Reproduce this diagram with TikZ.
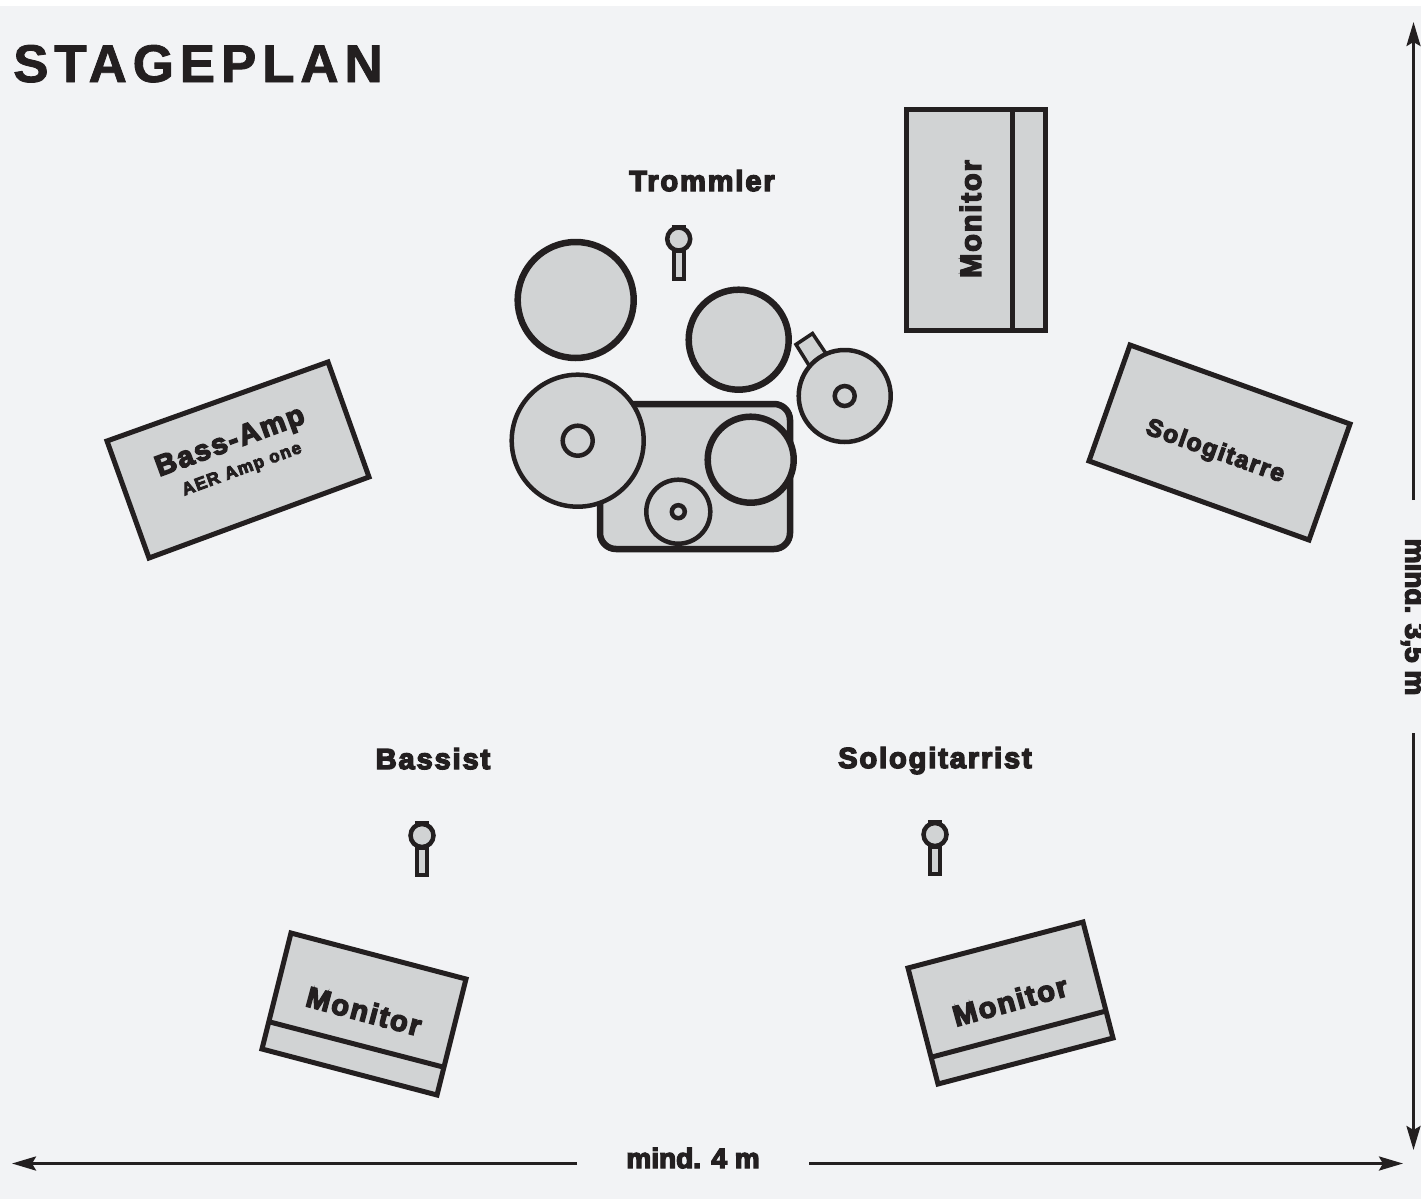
\documentclass[tikz,border=0pt]{standalone}
\usepackage{fontspec}
\usetikzlibrary{arrows.meta}
\setmainfont{Liberation Sans}
\newfontfamily\blk[FakeBold=5,LetterSpace=6.5]{Liberation Sans Bold}
\newfontfamily\blkn[FakeBold=5]{Liberation Sans Bold}
\newfontfamily\ttl[FakeBold=1.6,LetterSpace=11]{Liberation Sans Bold}
\definecolor{bgc}{HTML}{F2F3F5}
\definecolor{fillc}{HTML}{D1D3D4}
\definecolor{ink}{HTML}{231F20}
\tikzset{
  lab/.style={text=ink,inner sep=0pt,font=\blk\fontsize{29}{29}\selectfont},
  labn/.style={text=ink,inner sep=0pt,font=\blkn\fontsize{28}{28}\selectfont},
  box/.style={draw=ink,fill=fillc,line width=5pt,line join=miter},
  thick ring/.style={draw=ink,fill=fillc,line width=6.5pt},
  thin ring/.style={draw=ink,fill=fillc,line width=4.5pt},
  dim/.style={draw=ink,line width=3pt,-{Stealth[length=24pt,width=14pt,inset=4pt]}},
  mic/.pic={
    \draw[draw=ink,line width=3pt] (-7,-13) -- (7,-13);
    \draw[draw=ink,fill=fillc,line width=4pt] (-5,12) rectangle (5,39.5);
    \draw[thin ring] (0,0) circle (11.5);
  }
}
\begin{document}
\begin{tikzpicture}[x=1pt,y=-1pt]
\useasboundingbox (0,0) rectangle (1421,1199);
\fill[bgc] (0,6) rectangle (1421,1199);
\node[text=ink,inner sep=0pt,anchor=base west,font=\ttl\fontsize{53}{53}\selectfont] (title) at (13,82) {STAGEPLAN};
% top monitor
\draw[box] (906,109.5) rectangle (1045,330);
\draw[draw=ink,line width=5pt] (1012,109.5) -- (1012,330);
\node[lab,rotate=90] (montop) at (970.5,219) {Monitor};
% guitar amp
\draw[box] (1130,345) -- (1350,424) -- (1309,540) -- (1089,461) -- cycle;
\node[lab,rotate=-19.7,font=\blk\fontsize{24.5}{24.5}\selectfont] (solo) at (1215,452) {Sologitarre};
% bass amp
\draw[box] (328,362) -- (369,477) -- (149,558) -- (107,441) -- cycle;
\node[lab,rotate=20.2,font=\blk\fontsize{29}{29}\selectfont] (bass) at (230.5,443) {Bass-Amp};
\node[lab,rotate=20.2,font=\blk\fontsize{17.5}{17.5}\selectfont] (aer) at (242,470) {AER Amp one};
% lower monitors
\draw[box] (291,933) -- (466,979) -- (437,1095) -- (262,1049) -- cycle;
\draw[draw=ink,line width=5pt] (270,1022) -- (443,1067);
\node[lab,rotate=-15] (monl) at (364,1011) {Monitor};
\draw[box] (1083,922) -- (1113,1038) -- (938,1084) -- (908,968) -- cycle;
\draw[draw=ink,line width=5pt] (1106,1011) -- (932,1057);
\node[lab,rotate=15.5] (monr) at (1010,1001) {Monitor};
% drum kit
\draw[thick ring] (600,404) [rounded corners=16pt] rectangle (790,549);
\draw[thick ring] (575.7,300) circle (58);
\draw[thick ring] (738.7,339.7) circle (50);
\draw[draw=ink,fill=fillc,line width=3.5pt,line join=miter] (796,344.5) -- (812.5,333.5) -- (827,355) -- (810,367) -- cycle;
\draw[thin ring] (844.7,396) circle (46);
\draw[thin ring] (844.7,396) circle (10);
\draw[thin ring] (577.7,440.7) circle (66);
\draw[thin ring] (577.7,440.7) circle (15);
\draw[thick ring] (750.7,459.7) circle (43);
\draw[thin ring] (678.3,511.7) circle (32);
\draw[thin ring] (678.3,511.7) circle (6.5);
% mics
\pic at (678.7,239) {mic};
\pic at (422,835.5) {mic};
\pic at (935,834.5) {mic};
% labels
\node[lab,anchor=base] (tromm) at (702,191) {Trommler};
\node[lab,anchor=base] (bassist) at (433,769) {Bassist};
\node[lab,anchor=base] (sologit) at (935,768) {Sologitarrist};
% dimensions
\coordinate (vt) at (1413.5,22);
\coordinate (vta) at (1413.5,500);
\coordinate (vb) at (1413.5,1150);
\coordinate (vba) at (1413.5,733);
\coordinate (hl) at (12,1163.5);
\coordinate (hla) at (577,1163.5);
\coordinate (hr) at (1403,1163.5);
\coordinate (hra) at (809,1163.5);
\draw[dim] (vta) -- (vt);
\draw[dim] (vba) -- (vb);
\draw[dim] (hla) -- (hl);
\draw[dim] (hra) -- (hr);
\node[labn,anchor=base] (w) at (693,1168) {mind. 4 m};
\node[labn,anchor=base,rotate=-90] (h) at (1405.5,617) {mind. 3,5 m};
\end{tikzpicture}
\end{document}
